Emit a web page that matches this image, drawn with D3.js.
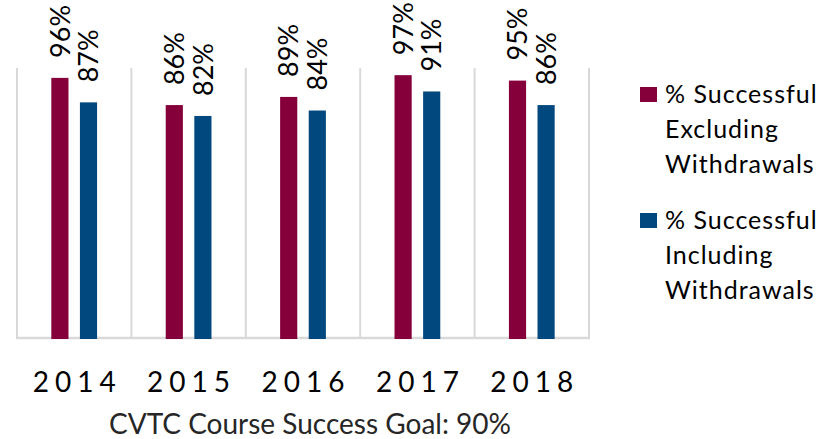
<!DOCTYPE html>
<html>
<head>
<meta charset="utf-8">
<script src="https://cdn.jsdelivr.net/npm/d3@7"></script>
<style>
  body { margin: 0; background: #fff; }
  text { font-family: Lato, "Open Sans", sans-serif; fill: #000; }
</style>
</head>
<body>
<div id="chart"></div>
<script>
// Data
const years = ["2014", "2015", "2016", "2017", "2018"];
const excluding = [96, 86, 89, 97, 95];
const including = [87, 82, 84, 91, 86];
const seriesNames = ["% Successful Excluding Withdrawals", "% Successful Including Withdrawals"];
const legendLines = [["% Successful", "Excluding", "Withdrawals"], ["% Successful", "Including", "Withdrawals"]];
const colors = ["#85003a", "#00487e"];
const caption = "CVTC Course Success Goal: 90%";

// Dimensions
const width = 829;
const height = 439;
const plotLeft = 17, plotRight = 589, plotTop = 67, plotBottom = 339;

const svg = d3.select("#chart")
  .append("svg")
  .attr("width", width)
  .attr("height", height);

// Scales
const x0 = d3.scaleBand()
  .domain(years)
  .range([plotLeft, plotRight]);

const x1 = d3.scaleBand()
  .domain([0, 1])
  .range([x0.bandwidth() * 0.3, x0.bandwidth() * 0.7])
  .paddingInner(0.4);

const y = d3.scaleLinear()
  .domain([0, 100])
  .range([plotBottom, plotTop]);

// Vertical separators between categories
const bounds = years.map(d => x0(d)).concat([plotRight]);
svg.append("g")
  .selectAll("line")
  .data(bounds).enter()
  .append("line")
  .attr("x1", d => d).attr("x2", d => d)
  .attr("y1", plotTop + 1).attr("y2", plotBottom)
  .attr("stroke", "#d9d9d9")
  .attr("stroke-width", 2);

// Bottom axis line
svg.append("line")
  .attr("x1", plotLeft - 1).attr("x2", plotRight + 1)
  .attr("y1", plotBottom - 1).attr("y2", plotBottom - 1)
  .attr("stroke", "#d9d9d9")
  .attr("stroke-width", 2.5);

// Bars
const rows = years.map((yr, i) => ({ year: yr, vals: [excluding[i], including[i]] }));

const groups = svg.append("g")
  .selectAll("g")
  .data(rows).enter()
  .append("g")
  .attr("transform", d => "translate(" + x0(d.year) + ",0)");

groups.selectAll("rect")
  .data(d => d.vals.map((v, k) => ({ k: k, v: v }))).enter()
  .append("rect")
  .attr("x", d => x1(d.k))
  .attr("y", d => y(d.v))
  .attr("width", x1.bandwidth())
  .attr("height", d => y(0) - y(d.v))
  .attr("fill", d => colors[d.k]);

// Rotated value labels
groups.selectAll("text")
  .data(d => d.vals.map((v, k) => ({ k: k, v: v }))).enter()
  .append("text")
  .attr("transform", d => "translate(" + (x1(d.k) + x1.bandwidth() / 2) + "," + (y(d.v) - 20) + ") rotate(-90)")
  .attr("dy", "0.36em")
  .attr("text-anchor", "start")
  .style("font-size", "27px")
  .text(d => d.v + "%");

// Category labels
svg.append("g")
  .selectAll("text")
  .data(years).enter()
  .append("text")
  .attr("x", d => x0(d) + x0.bandwidth() / 2 + 3)
  .attr("y", 392)
  .attr("text-anchor", "middle")
  .style("font-size", "28px")
  .style("letter-spacing", "6px")
  .text(d => d);

// Caption
svg.append("text")
  .attr("x", 310)
  .attr("y", 434)
  .attr("text-anchor", "middle")
  .style("font-size", "28px")
  .style("fill", "#262626")
  .text(caption);

// Legend
const legend = svg.append("g")
  .selectAll("g")
  .data(seriesNames).enter()
  .append("g")
  .attr("transform", (d, i) => "translate(640," + (87 + i * 126) + ")");

legend.append("rect")
  .attr("width", 17)
  .attr("height", 15)
  .attr("fill", (d, i) => colors[i]);

legend.append("text")
  .attr("x", 25)
  .attr("y", 16)
  .style("font-size", "25px")
  .style("letter-spacing", "1px")
  .selectAll("tspan")
  .data((d, i) => legendLines[i]).enter()
  .append("tspan")
  .attr("x", 25)
  .attr("dy", (d, j) => j === 0 ? 0 : 35)
  .text(d => d);
</script>
</body>
</html>
